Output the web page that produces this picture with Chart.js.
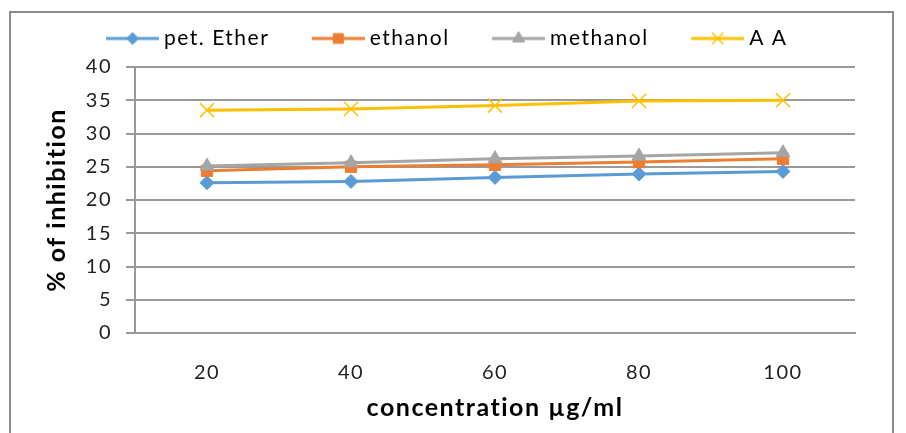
<!DOCTYPE html>
<html>
<head>
<meta charset="utf-8">
<script src="https://cdn.jsdelivr.net/npm/chart.js@4/dist/chart.umd.min.js"></script>
<style>
  html, body { margin: 0; padding: 0; background: #fff; }
  #wrap { position: relative; width: 906px; height: 433px; overflow: hidden; }
  #frame { position: absolute; left: 9px; top: 11px; width: 885px; height: 440px; border: 2px solid #8c8c8c; box-sizing: border-box; }
  canvas { position: absolute; left: 0; top: 0; }
</style>
</head>
<body>
<div id="wrap">
  <div id="frame"></div>
  <canvas id="chart" width="906" height="433"></canvas>
</div>
<script>
// Data
const concentrations = ['20', '40', '60', '80', '100'];
const petEther = [22.6, 22.8, 23.4, 23.9, 24.3];
const ethanol = [24.4, 25.0, 25.3, 25.7, 26.2];
const methanol = [25.1, 25.6, 26.2, 26.6, 27.1];
const ascorbic = [33.5, 33.7, 34.2, 34.9, 35.0];
const yTicks = [0, 5, 10, 15, 20, 25, 30, 35, 40];

const seriesNames = ['pet. Ether', 'ethanol', 'methanol', 'A A'];
const seriesColors = ['#5B9BD5', '#ED7D31', '#A5A5A5', '#FFC000'];
const seriesMarkers = ['rectRot', 'rect', 'triangle', 'crossRot'];
const seriesData = [petEther, ethanol, methanol, ascorbic];

const markerRadius = { rectRot: 7, rect: 8, triangle: 8, crossRot: 10 };
const legendRadius = { rectRot: 6, rect: 7, triangle: 7, crossRot: 8 };

// legend swatch: line with marker in the middle
const BOX_W = 76;
function makeSwatch(color, marker) {
    const c = document.createElement('canvas');
    c.width = BOX_W + 11; c.height = 20;
    const g = c.getContext('2d');
    const x0 = c.width - 53, x1 = c.width;
    g.strokeStyle = color;
    g.fillStyle = color;
    g.lineWidth = 3;
    g.beginPath(); g.moveTo(x0, 10); g.lineTo(x1, 10); g.stroke();
    g.lineWidth = marker === 'crossRot' ? 1.5 : 1;
    Chart.helpers.drawPoint(g, {
        pointStyle: marker,
        radius: legendRadius[marker],
        rotation: 0,
        borderWidth: g.lineWidth
    }, (x0 + x1) / 2, 10);
    return c;
}

// --- BUILD DATASETS ---
const datasets = seriesNames.map((name, i) => ({
    label: name,
    data: seriesData[i],
    borderColor: seriesColors[i],
    backgroundColor: seriesColors[i],
    pointBackgroundColor: seriesColors[i],
    pointBorderColor: seriesColors[i],
    borderWidth: 3,
    pointStyle: seriesMarkers[i],
    pointRadius: markerRadius[seriesMarkers[i]],
    pointBorderWidth: seriesMarkers[i] === 'crossRot' ? 1.5 : 1,
    tension: 0,
    order: 4 - i
}));

// Excel-ish wide text rendering + fixed legend height
const textLook = {
    id: 'textLook',
    beforeUpdate(chart) { chart.ctx.letterSpacing = '1.5px'; },
    beforeDraw(chart) { chart.ctx.letterSpacing = '1.5px'; },
    beforeLayout(chart) {
        const lg = chart.legend;
        if (lg && !lg._patched) {
            const orig = lg.fit;
            lg.fit = function () { orig.call(this); this.height = 53; };
            lg._patched = true;
        }
    }
};

const ctx = document.getElementById('chart').getContext('2d');
new Chart(ctx, {
    type: 'line',
    data: { labels: concentrations, datasets },
    plugins: [textLook],
    options: {
        responsive: false,
        animation: false,
        layout: { padding: { left: 10, right: 51, top: 14, bottom: 0 } },
        plugins: {
            tooltip: { enabled: false },
            legend: {
                position: 'top',
                labels: {
                    color: '#111',
                    font: { family: 'Lato', size: 21 },
                    usePointStyle: true,
                    pointStyleWidth: BOX_W,
                    padding: 14,
                    generateLabels(chart) {
                        return chart.data.datasets.map((ds, i) => ({
                            text: ds.label,
                            pointStyle: makeSwatch(seriesColors[i], seriesMarkers[i]),
                            fillStyle: seriesColors[i],
                            strokeStyle: seriesColors[i],
                            lineWidth: 0,
                            hidden: false,
                            datasetIndex: i
                        }));
                    }
                }
            }
        },
        scales: {
            x: {
                offset: true,
                grid: { display: false, offset: true },
                border: { display: true, color: '#999', width: 2 },
                ticks: { color: '#222', font: { family: 'Lato', size: 20 }, padding: 20 },
                title: {
                    display: true,
                    text: 'concentration µg/ml',
                    color: '#000',
                    font: { family: 'Lato', size: 25, weight: 'bold' },
                    padding: { top: 0, bottom: 10 }
                },
                afterFit(scale) { scale.height = 100; }
            },
            y: {
                min: 0,
                max: 40,
                afterBuildTicks(scale) { scale.ticks = yTicks.map(v => ({ value: v })); },
                grid: { color: '#9a9a9a', lineWidth: 2, tickLength: 9, drawTicks: true },
                border: { display: true, color: '#999', width: 2 },
                ticks: { color: '#222', font: { family: 'Lato', size: 20 }, padding: 14 },
                title: {
                    display: true,
                    text: '% of inhibition',
                    color: '#000',
                    font: { family: 'Lato', size: 25, weight: 'bold' },
                    padding: { top: 32, bottom: 0 }
                },
                afterFit(scale) { scale.width = 125; }
            }
        }
    }
});
</script>
</body>
</html>
